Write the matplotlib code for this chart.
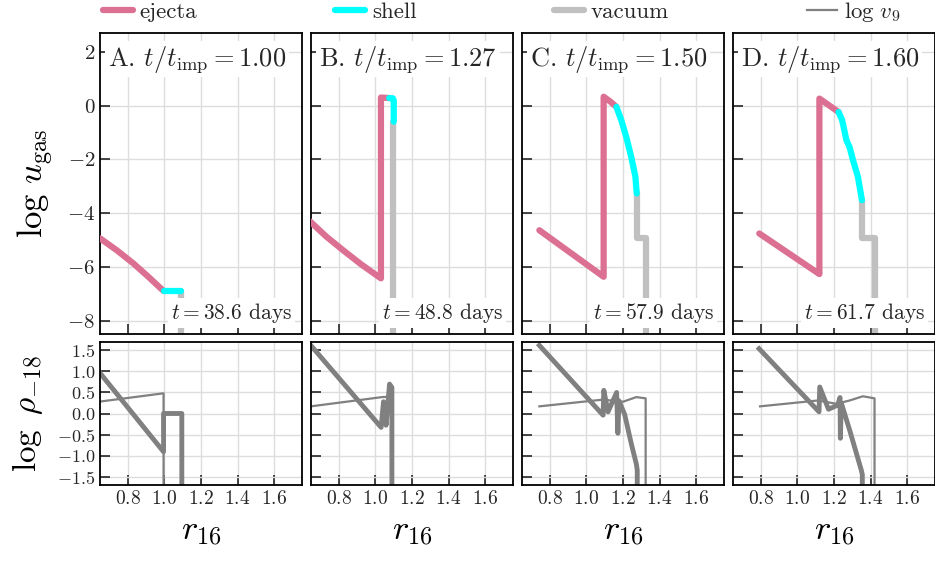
import matplotlib.pyplot as plt

plt.rcParams['font.family'] = 'serif'
plt.rcParams['font.serif'] = ['cmr10']
plt.rcParams['mathtext.fontset'] = 'cm'
plt.rcParams['axes.formatter.use_mathtext'] = True
plt.rcParams['text.color'] = '#262626'
plt.rcParams['xtick.color'] = '#262626'
plt.rcParams['ytick.color'] = '#262626'

# panel labels
panel_names = ['A', 'B', 'C', 'D']
t_ratio = ['1.00', '1.27', '1.50', '1.60']
t_days = ['38.6', '48.8', '57.9', '61.7']

# top row: log u_gas vs r_16, split into ejecta / shell / vacuum
ejecta_r = [[0.647, 0.738, 0.829, 0.91, 0.995],
            [0.64, 0.73, 0.822, 0.92, 1.03, 1.03, 1.075],
            [0.742, 1.094, 1.094, 1.13, 1.164],
            [0.791, 1.12, 1.12, 1.225]]
ejecta_u = [[-4.94, -5.38, -5.87, -6.36, -6.9],
            [-4.3, -4.87, -5.38, -5.9, -6.43, 0.3, 0.28],
            [-4.64, -6.37, 0.33, 0.15, -0.05],
            [-4.76, -6.27, 0.26, -0.24]]

shell_r = [[1.0, 1.093],
           [1.075, 1.095, 1.10, 1.10],
           [1.164, 1.191, 1.218, 1.245, 1.268, 1.275],
           [1.225, 1.245, 1.268, 1.285, 1.304, 1.331, 1.353]]
shell_u = [[-6.9, -6.9],
           [0.28, 0.27, 0.2, -0.6],
           [-0.05, -0.55, -1.17, -1.91, -2.65, -3.27],
           [-0.24, -0.55, -1.29, -1.54, -2.03, -2.65, -3.52]]

vacuum_r = [[1.093, 1.093],
            [1.097, 1.097],
            [1.275, 1.275, 1.327, 1.327],
            [1.353, 1.353, 1.427, 1.427]]
vacuum_u = [[-6.9, -9.0],
            [-0.6, -9.0],
            [-3.27, -4.94, -4.94, -9.0],
            [-3.52, -4.94, -4.94, -9.0]]

# bottom row: log rho_-18 (thick) and log v_9 (thin)
rho_r = [[0.64, 0.995, 0.995, 1.095, 1.095],
         [0.646, 1.031, 1.044, 1.058, 1.077, 1.09, 1.09],
         [0.742, 1.091, 1.095, 1.118, 1.165, 1.172, 1.178, 1.209, 1.245, 1.273, 1.278, 1.278],
         [0.79, 1.118, 1.122, 1.17, 1.22, 1.233, 1.235, 1.24, 1.286, 1.349, 1.355, 1.355]]
rho = [[1.0, -0.91, 0.0, 0.0, -2.0],
       [1.62, -0.33, 0.28, -0.28, 0.7, 0.62, -2.0],
       [1.62, -0.04, 0.55, 0.04, 0.5, -0.47, 0.3, -0.02, -0.71, -1.2, -1.35, -2.0],
       [1.54, 0.04, 0.63, 0.1, 0.2, 0.38, -0.59, 0.25, -0.40, -1.34, -1.45, -2.0]]

v9_r = [[0.64, 0.995, 0.995],
        [0.646, 1.036, 1.09, 1.09],
        [0.742, 1.09, 1.2, 1.273, 1.324, 1.324],
        [0.795, 1.113, 1.213, 1.286, 1.358, 1.422, 1.422]]
v9 = [[0.28, 0.48, -2.0],
      [0.17, 0.39, 0.4, -2.0],
      [0.17, 0.33, 0.28, 0.39, 0.36, -2.0],
      [0.17, 0.31, 0.23, 0.31, 0.41, 0.36, -2.0]]

fig = plt.figure(figsize=(9.35, 5.61), dpi=100)

lefts = [100, 311, 522, 733]
handles = []
for i in range(4):
    # top panel
    ax = fig.add_axes([lefts[i] / 935, 1 - 334 / 561, 202 / 935, 301 / 561])
    lv, = ax.plot(vacuum_r[i], vacuum_u[i], '-', color='#c0c0c0', lw=4.5,
                  solid_capstyle='round', solid_joinstyle='round', zorder=2, label='vacuum')
    le, = ax.plot(ejecta_r[i], ejecta_u[i], '-', color='#db7093', lw=4.5,
                  solid_capstyle='round', solid_joinstyle='round', zorder=3, label='ejecta')
    ls, = ax.plot(shell_r[i], shell_u[i], '-', color='#00ffff', lw=4.5,
                  solid_capstyle='round', solid_joinstyle='round', zorder=4, label='shell')
    if i == 0:
        handles = [le, ls, lv]
    ax.set_xlim(0.647, 1.753)
    ax.set_ylim(-8.5, 2.7)
    ax.set_xticks([0.8, 1.0, 1.2, 1.4, 1.6])
    ax.set_yticks([-8, -6, -4, -2, 0, 2])
    ax.set_xticklabels([])
    if i > 0:
        ax.set_yticklabels([])
    else:
        ax.set_ylabel(r'$\log\,u_{\rm gas}$', fontsize=25)
        ax.yaxis.set_label_coords(-0.22, 0.5)
    ax.grid(True, color='#dddddd', lw=1)
    ax.set_axisbelow(True)
    ax.tick_params(direction='in', length=7, width=1.2, labelsize=15)
    for s in ax.spines.values():
        s.set_linewidth(1.3)
    ax.text(0.04, 0.965, panel_names[i] + r'. $t/t_{\rm imp}=' + t_ratio[i] + '$',
            transform=ax.transAxes, fontsize=19, ha='left', va='top', zorder=10,
            bbox=dict(fc='white', ec='none', pad=2))
    ax.text(0.95, 0.03, r'$t=$' + t_days[i] + ' days', transform=ax.transAxes,
            fontsize=15.5, ha='right', va='bottom', zorder=10,
            bbox=dict(fc='white', ec='none', pad=2))

    # bottom panel
    ax2 = fig.add_axes([lefts[i] / 935, 1 - 485 / 561, 202 / 935, 143 / 561])
    ax2.plot(rho_r[i], rho[i], '-', color='gray', lw=3.5, solid_joinstyle='round')
    lt, = ax2.plot(v9_r[i], v9[i], '-', color='gray', lw=1.6, label=r'$\log\,v_9$')
    if i == 0:
        handles.append(lt)
    ax2.set_xlim(0.647, 1.753)
    ax2.set_ylim(-1.7, 1.7)
    ax2.set_xticks([0.8, 1.0, 1.2, 1.4, 1.6])
    ax2.set_yticks([-1.5, -1.0, -0.5, 0.0, 0.5, 1.0, 1.5])
    if i > 0:
        ax2.set_yticklabels([])
    else:
        ax2.set_ylabel(r'$\log\ \rho_{-18}$', fontsize=24)
        ax2.yaxis.set_label_coords(-0.27, 0.5)
    ax2.set_xlabel(r'$r_{16}$', fontsize=25, labelpad=6)
    ax2.grid(True, color='#dddddd', lw=1)
    ax2.set_axisbelow(True)
    ax2.tick_params(direction='in', length=7, width=1.2, labelsize=14)
    ax2.tick_params(axis='y', labelsize=13)
    for s in ax2.spines.values():
        s.set_linewidth(1.3)

fig.legend(handles, [h.get_label() for h in handles], loc='center',
           bbox_to_anchor=(103 / 935, 1 - 12 / 561, 797 / 935, 0), mode='expand',
           ncol=4, frameon=False, fontsize=16.5, handlelength=1.3,
           handletextpad=0.3, borderpad=0, borderaxespad=0)

plt.savefig('out.png', dpi=100)
